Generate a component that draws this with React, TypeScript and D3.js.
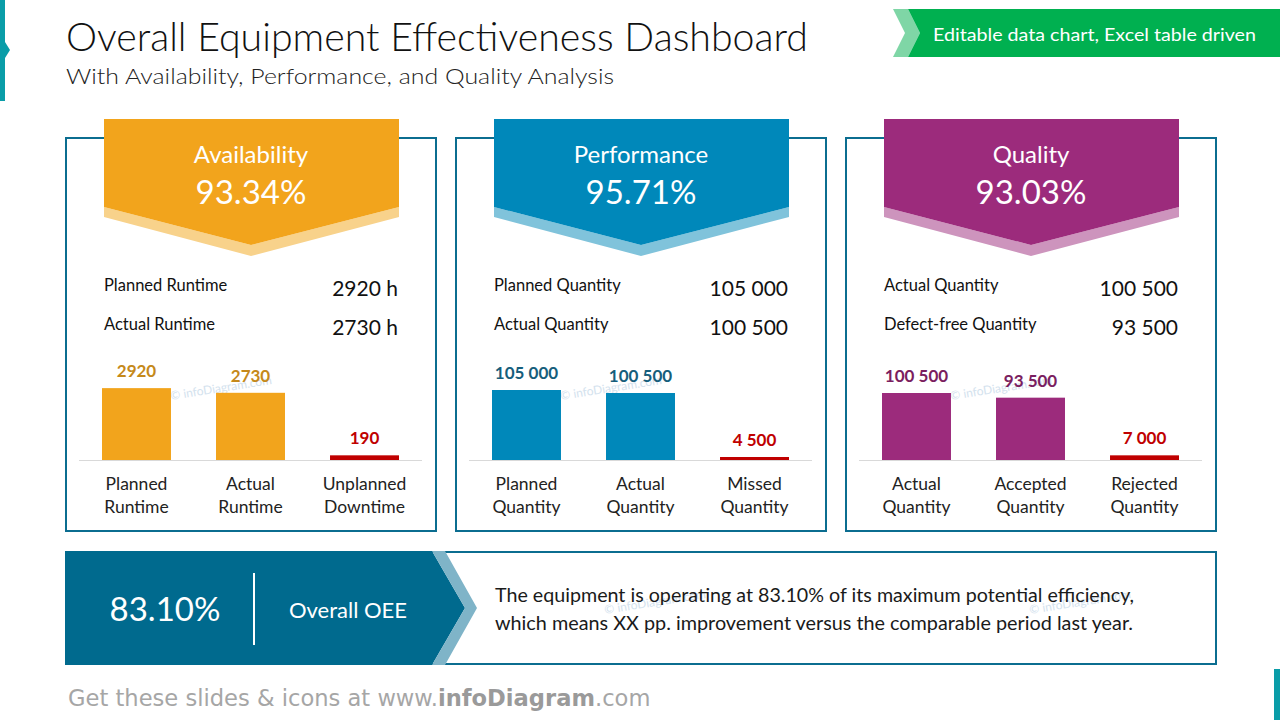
import React from "react";
import * as d3 from "d3";

const panelTitles = ["Availability", "Performance", "Quality"];
const panelPercents = ["93.34%", "95.71%", "93.03%"];
const rowLabels = [
  ["Planned Runtime", "Actual Runtime"],
  ["Planned Quantity", "Actual Quantity"],
  ["Actual Quantity", "Defect-free Quantity"],
];
const rowValues = [
  ["2920 h", "2730 h"],
  ["105 000", "100 500"],
  ["100 500", "93 500"],
];
const barCategories = [
  [["Planned", "Runtime"], ["Actual", "Runtime"], ["Unplanned", "Downtime"]],
  [["Planned", "Quantity"], ["Actual", "Quantity"], ["Missed", "Quantity"]],
  [["Actual", "Quantity"], ["Accepted", "Quantity"], ["Rejected", "Quantity"]],
];
const barValues = [
  [2920, 2730, 190],
  [105000, 100500, 4500],
  [100500, 93500, 7000],
];
const axisMax = [3250, 120000, 120000];
const oeeValue = "83.10%";
const oeeLabel = "Overall OEE";
const descLines = [
  "The equipment is operating at 83.10% of its maximum potential efficiency,",
  "which means XX pp. improvement versus the comparable period last year.",
];

const mainColors = ["#F2A41C", "#0088BA", "#9C2B7C"];
const lightColors = ["#F8D28B", "#80C3DB", "#CD94BD"];
const labelColors = ["#C5891A", "#165E7C", "#7B1E60"];
const RED = "#C00000";
const BORDER = "#0B6D90";
const FONT = "Lato, 'Noto Sans', sans-serif";
const WM = "#D3E2EE";

const spaceLocale = d3.formatLocale({ decimal: ".", thousands: "\u2009", grouping: [3], currency: ["", ""] });
const fmtSpace = (v: number) => spaceLocale.format(",d")(v).replace(/\u2009/g, " ");
const fmtPlain = d3.format("d");

function Panel({ i }: { i: number }) {
  const x0 = 66 + i * 390;
  const y0 = 138;
  const w = 370;
  const h = 393;
  const cx = x0 + 185;
  const bx0 = x0 + 38;
  const bx1 = x0 + 333;
  const baseY = 460;
  const cats = barCategories[i].map((c) => c.join(" "));
  const xs = d3
    .scaleBand<string>()
    .domain(cats)
    .range([x0 + 13.5, x0 + 355.5])
    .paddingInner(0.395)
    .paddingOuter(0.1974);
  const ys = d3.scaleLinear().domain([0, axisMax[i]]).range([baseY, baseY - 80]);
  const fmt = i === 0 ? fmtPlain : fmtSpace;
  const light = [
    [bx0, 207], [cx, 245], [bx1, 207], [bx1, 217], [cx, 256], [bx0, 217],
  ];
  const dark = [
    [bx0, 119], [bx1, 119], [bx1, 207], [cx, 245], [bx0, 207],
  ];
  const poly = (pts: number[][]) => pts.map((p) => p.join(",")).join(" ");
  return (
    <g>
      <rect x={x0} y={y0} width={w} height={h} fill="#fff" stroke={BORDER} strokeWidth={2} />
      <polygon points={poly(light)} fill={lightColors[i]} />
      <polygon points={poly(dark)} fill={mainColors[i]} />
      <text x={cx} y={163} textAnchor="middle" fill="#fff" fontSize={24} fontFamily={FONT}>
        {panelTitles[i]}
      </text>
      <text x={cx} y={204} textAnchor="middle" fill="#fff" fontSize={33} fontFamily={FONT}>
        {panelPercents[i]}
      </text>
      <text
        x={cx - 80}
        y={400}
        fontSize={12}
        fill={WM}
        fontFamily={FONT}
        transform={`rotate(-9 ${cx - 80} 400)`}
      >
        © infoDiagram.com
      </text>
      {rowLabels[i].map((l, k) => (
        <g key={k}>
          <text x={bx0} y={291 + k * 39} fontSize={16.5} fill="#111" fontFamily={FONT}>
            {l}
          </text>
          <text x={bx1 - 1} y={296 + k * 39} fontSize={21} fill="#111" textAnchor="end" fontFamily={FONT}>
            {rowValues[i][k]}
          </text>
        </g>
      ))}
      <line x1={x0 + 13} x2={x0 + 356} y1={baseY + 0.5} y2={baseY + 0.5} stroke="#D9D9D9" strokeWidth={1.2} />
      {barValues[i].map((v, k) => {
        const isLoss = k === 2;
        const bx = xs(cats[k]) as number;
        const bw = xs.bandwidth();
        const top = ys(v);
        return (
          <g key={k}>
            <rect x={bx} y={top} width={bw} height={baseY - top} fill={isLoss ? RED : mainColors[i]} />
            <text
              x={bx + bw / 2}
              y={top - 11}
              textAnchor="middle"
              fontSize={17}
              fontWeight={700}
              fill={isLoss ? RED : labelColors[i]}
              fontFamily={FONT}
            >
              {fmt(v)}
            </text>
            {barCategories[i][k].map((line, j) => (
              <text
                key={j}
                x={bx + bw / 2}
                y={490 + j * 23}
                textAnchor="middle"
                fontSize={17.5}
                fill="#222"
                fontFamily={FONT}
              >
                {line}
              </text>
            ))}
          </g>
        );
      })}
    </g>
  );
}

export default function App() {
  return (
    <svg width={1280} height={720} style={{ position: "absolute", left: 0, top: 0, background: "#fff" }}>
      <rect x={0} y={0} width={1280} height={720} fill="#fff" />
      {/* left accent */}
      <polygon points="0,0 5,0 5,42 10,50 5,58 5,101 0,101" fill="#0A9DA8" />
      <rect x={1274} y={669} width={6} height={51} fill="#0A9DA8" />
      {/* title */}
      <text x={66} y={51} fontSize={39} fontFamily={FONT} fontWeight={300} fill="#111" textLength={742} lengthAdjust="spacingAndGlyphs">
        Overall Equipment Effectiveness Dashboard
      </text>
      <text x={66} y={84} fontSize={22} fontFamily={FONT} fontWeight={300} fill="#222" textLength={548} lengthAdjust="spacingAndGlyphs">
        With Availability, Performance, and Quality Analysis
      </text>
      {/* green banner */}
      <polygon points="893,9 908,9 920,33 908,57 893,57 905,33" fill="#7FD6A6" />
      <polygon points="908,9 1280,9 1280,57 908,57 920,33" fill="#00B050" />
      <text x={933} y={41} fontSize={18} fontFamily={FONT} fill="#fff" textLength={323} lengthAdjust="spacingAndGlyphs">
        Editable data chart, Excel table driven
      </text>
      {[0, 1, 2].map((i) => (
        <Panel key={i} i={i} />
      ))}
      {/* bottom OEE box */}
      <rect x={66} y={552} width={1150} height={112} fill="#fff" stroke={BORDER} strokeWidth={2} />
      <polygon points="65,551 432,551 465,608 432,665 65,665" fill="#006A8E" />
      <polygon points="432,551 445,551 477,608 445,665 432,665 465,608" fill="#7FB4C8" />
      <text x={165} y={621} textAnchor="middle" fontSize={33} fontFamily={FONT} fill="#fff">
        {oeeValue}
      </text>
      <line x1={254} x2={254} y1={573} y2={645} stroke="#fff" strokeWidth={2} />
      <text x={348} y={618} textAnchor="middle" fontSize={22} fontFamily={FONT} fill="#fff">
        {oeeLabel}
      </text>
      <text x={605} y={614} fontSize={12} fill={WM} fontFamily={FONT} transform="rotate(-9 605 614)">
        © infoDiagram.com
      </text>
      <text x={1030} y={614} fontSize={12} fill={WM} fontFamily={FONT} transform="rotate(-9 1030 614)">
        © infoDiagram.com
      </text>
      {descLines.map((l, k) => (
        <text
          key={k}
          x={495}
          y={602 + k * 28}
          fontSize={18.5}
          fontFamily={FONT}
          fill="#1a1a1a"
          textLength={k === 0 ? 639 : 638}
          lengthAdjust="spacingAndGlyphs"
        >
          {l}
        </text>
      ))}
      {/* footer */}
      <text x={68} y={706} fontSize={22.6} fontFamily="'DejaVu Sans', sans-serif" fill="#A6A6A6">
        Get these slides &amp; icons at www.<tspan fontWeight={700} fill="#9A9A9A">infoDiagram</tspan>.com
      </text>
    </svg>
  );
}
